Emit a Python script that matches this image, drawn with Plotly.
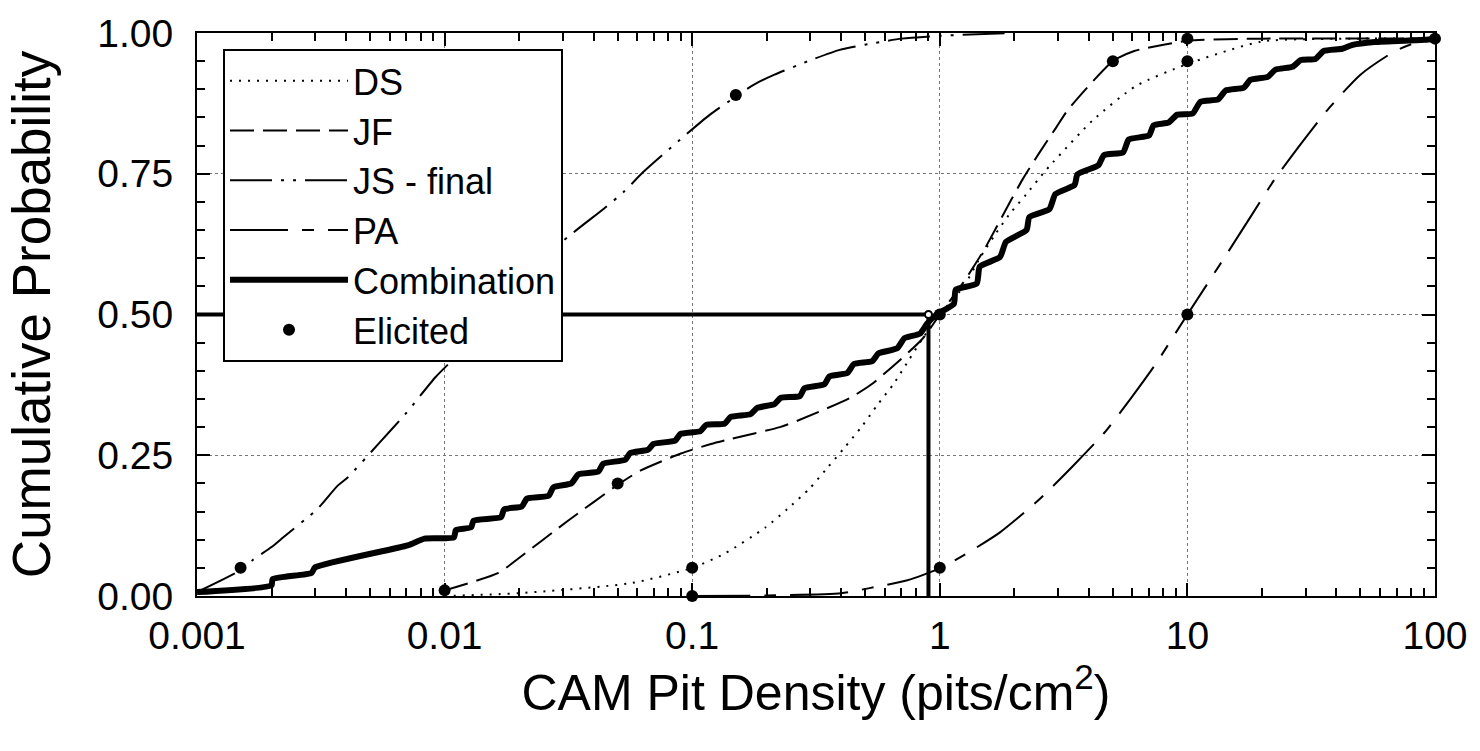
import plotly.graph_objects as go

# ---------------- data ----------------
ds_x = [0.01, 0.02, 0.057, 0.1, 0.136, 0.198, 0.243, 0.298, 0.352, 0.415, 0.486, 0.559,
        0.649, 0.752, 0.848, 1.0, 1.25, 1.45, 1.66, 1.91, 2.24, 2.62, 2.86, 4.17, 6.2,
        10, 20, 50, 100]
ds_y = [0.0, 0.005, 0.023, 0.05, 0.076, 0.122, 0.155, 0.191, 0.228, 0.265, 0.302, 0.339,
        0.376, 0.42, 0.456, 0.5, 0.55, 0.6, 0.64, 0.678, 0.714, 0.751, 0.77, 0.846, 0.906,
        0.945, 0.985, 0.99, 0.99]

jf_x = [0.01, 0.0165, 0.0195, 0.0316, 0.051, 0.062, 0.09, 0.119, 0.143, 0.226, 0.272,
        0.434, 0.53, 0.848, 1.0, 1.25, 1.37, 1.52, 1.95, 2.16, 2.53, 2.95, 3.3, 5.0, 6.1,
        10, 20, 100]
jf_y = [0.01, 0.041, 0.064, 0.134, 0.2, 0.223, 0.253, 0.27, 0.279, 0.3, 0.313,
        0.352, 0.376, 0.456, 0.5, 0.558, 0.585, 0.617, 0.705, 0.74, 0.788, 0.832, 0.864,
        0.95, 0.968, 0.986, 0.99, 0.99]

js_x = [0.001, 0.0015, 0.00168, 0.002, 0.0022, 0.00307, 0.0037, 0.00405, 0.00545, 0.007,
        0.0092, 0.012, 0.02, 0.03, 0.0437, 0.0527, 0.0634, 0.0885, 0.118, 0.15, 0.177,
        0.215, 0.298, 0.394, 0.543, 0.7, 1.0, 2.0]
js_y = [0.007, 0.046, 0.064, 0.087, 0.102, 0.155, 0.196, 0.21, 0.272, 0.325,
        0.389, 0.44, 0.55, 0.63, 0.687, 0.717, 0.753, 0.809, 0.855, 0.887, 0.908,
        0.926, 0.951, 0.97, 0.982, 0.99, 0.995, 1.0]

pa_x = [0.1, 0.2, 0.4, 0.52, 0.74, 1.0, 1.29, 1.75, 2.5, 3.45, 4.62, 5.93, 7.47, 10,
        14.6, 18.2, 22.5, 29.4, 37.4, 50, 69, 88, 100]
pa_y = [0.0, 0.001, 0.005, 0.014, 0.028, 0.049, 0.076, 0.113, 0.17, 0.231, 0.29, 0.352,
        0.413, 0.5, 0.611, 0.677, 0.74, 0.809, 0.867, 0.926, 0.968, 0.986, 0.988]

comb_x = [0.001, 0.002, 0.00202, 0.0029, 0.003, 0.0071, 0.0083, 0.0109, 0.0111, 0.0128,
          0.0131, 0.0169, 0.0174, 0.0205, 0.0215, 0.0263, 0.0275, 0.0325, 0.0347, 0.0418,
          0.0437, 0.0537, 0.0562, 0.0664, 0.0697, 0.0853, 0.0897, 0.108, 0.114, 0.135,
          0.143, 0.172, 0.183, 0.215, 0.228, 0.272, 0.284, 0.342, 0.358, 0.423, 0.45,
          0.533, 0.566, 0.673, 0.72, 0.832, 0.89, 0.97, 1.14, 1.16, 1.41, 1.45, 1.75,
          1.85, 2.24, 2.3, 2.77, 2.93, 3.5, 3.6, 4.37, 4.6, 5.5, 5.8, 7.0, 7.3, 8.4, 9.1,
          10.5, 11.3, 13.3, 14.3, 16.9, 18.0, 21.1, 22.7, 26.6, 28.7, 32.9, 35.5, 42.3,
          46.5, 57, 91, 100]
comb_y = [0.007, 0.019, 0.03, 0.041, 0.051, 0.09, 0.102, 0.104, 0.117, 0.122,
          0.134, 0.14, 0.154, 0.159, 0.173, 0.178, 0.193, 0.2, 0.216, 0.221,
          0.235, 0.242, 0.254, 0.26, 0.27, 0.276, 0.288, 0.293, 0.304, 0.306,
          0.318, 0.323, 0.334, 0.341, 0.352, 0.355, 0.369, 0.376, 0.39, 0.396, 0.412,
          0.417, 0.431, 0.44, 0.458, 0.466, 0.484, 0.5, 0.519, 0.544, 0.555, 0.585, 0.602,
          0.629, 0.65, 0.673, 0.687, 0.714, 0.73, 0.749, 0.765, 0.783, 0.788, 0.811, 0.818,
          0.836, 0.841, 0.855, 0.857, 0.878, 0.882, 0.898, 0.903, 0.917, 0.922, 0.935,
          0.94, 0.952, 0.954, 0.968, 0.972, 0.979, 0.984, 0.988, 0.99]

elicited_x = [0.0015, 0.01, 0.05, 0.1, 0.1, 0.15, 1, 1, 5, 10, 10, 10, 100]
elicited_y = [0.05, 0.01, 0.2, 0.05, 0.0, 0.89, 0.5, 0.05, 0.95, 0.99, 0.95, 0.5, 0.99]

median_x = 0.9
median_y = 0.5
x_start = 0.001

x_tickvals = [0.001, 0.01, 0.1, 1, 10, 100]
x_ticktext = ["0.001", "0.01", "0.1", "1", "10", "100"]
y_tickvals = [0.0, 0.25, 0.5, 0.75, 1.0]
y_ticktext = ["0.00", "0.25", "0.50", "0.75", "1.00"]

# ---------------- figure ----------------
FONT = "Liberation Sans, Arial, Helvetica, sans-serif"
TICKC = "black"
fig = go.Figure()

fig.add_trace(go.Scatter(x=ds_x, y=ds_y, mode="lines", name="DS",
                         line=dict(color="black", width=2, dash="2px,7px", shape="spline", smoothing=0.6)))
fig.add_trace(go.Scatter(x=jf_x, y=jf_y, mode="lines", name="JF",
                         line=dict(color="black", width=2, dash="24px,9px", shape="spline", smoothing=0.6)))
fig.add_trace(go.Scatter(x=js_x, y=js_y, mode="lines", name="JS - final",
                         line=dict(color="black", width=2, dash="42px,9px,3px,9px,3px,9px",
                                   shape="spline", smoothing=0.6)))
fig.add_trace(go.Scatter(x=pa_x, y=pa_y, mode="lines", name="PA",
                         line=dict(color="black", width=2, dash="58px,14px,12px,14px",
                                   shape="spline", smoothing=0.6)))
# median guide lines
fig.add_trace(go.Scatter(x=[x_start, median_x, median_x], y=[median_y, median_y, 0.0],
                         mode="lines", showlegend=False, hoverinfo="skip",
                         line=dict(color="black", width=4), cliponaxis=False))
fig.add_trace(go.Scatter(x=comb_x, y=comb_y, mode="lines", name="Combination",
                         line=dict(color="black", width=6, shape="spline", smoothing=0.5)))
fig.add_trace(go.Scatter(x=elicited_x, y=elicited_y, mode="markers", name="Elicited",
                         marker=dict(color="black", size=12), cliponaxis=False))
fig.add_trace(go.Scatter(x=[median_x], y=[median_y], mode="markers", showlegend=False,
                         marker=dict(color="white", size=7, line=dict(color="black", width=2)),
                         cliponaxis=False))

minor_x = [m * 10 ** e for e in range(-3, 2) for m in range(2, 10)]
minor_y = [i / 20 for i in range(21)]

fig.update_layout(
    width=1480, height=751,
    margin=dict(l=197, r=40, t=30, b=155),
    plot_bgcolor="white", paper_bgcolor="white",
    font=dict(family=FONT, color="black"),
    showlegend=True,
    legend=dict(x=0.021, y=0.972, xanchor="left", yanchor="top",
                bgcolor="white", bordercolor="black", borderwidth=2,
                font=dict(size=36, family=FONT), itemwidth=118,
                traceorder="normal", tracegroupgap=0),
    xaxis=dict(
        type="log", range=[-3, 2],
        tickmode="array", tickvals=x_tickvals, ticktext=x_ticktext,
        ticks="inside", ticklen=13, tickwidth=2, tickcolor=TICKC,
        minor=dict(tickmode="array", tickvals=minor_x, ticks="inside", ticklen=8,
                   tickwidth=2, tickcolor=TICKC, showgrid=False),
        showline=True, linewidth=2, linecolor="black", mirror="ticks",
        showgrid=True, gridcolor="#777777", griddash="dot", gridwidth=1,
        tickfont=dict(size=39, family=FONT), ticklabelstandoff=4,
        title=dict(text="CAM Pit Density (pits/cm<sup>2</sup>)",
                   font=dict(size=50, family=FONT), standoff=8),
        zeroline=False,
    ),
    yaxis=dict(
        range=[0, 1],
        tickmode="array", tickvals=y_tickvals, ticktext=y_ticktext,
        ticks="inside", ticklen=13, tickwidth=2, tickcolor=TICKC,
        minor=dict(tickmode="array", tickvals=minor_y, ticks="inside", ticklen=8,
                   tickwidth=2, tickcolor=TICKC, showgrid=False),
        showline=True, linewidth=2, linecolor="black", mirror="ticks",
        showgrid=True, gridcolor="#777777", griddash="dot", gridwidth=1,
        tickfont=dict(size=39, family=FONT), ticklabelstandoff=14,
        title=dict(text="Cumulative Probability", font=dict(size=53, family=FONT), standoff=30),
        zeroline=False,
    ),
)

fig.write_html("out.html")
